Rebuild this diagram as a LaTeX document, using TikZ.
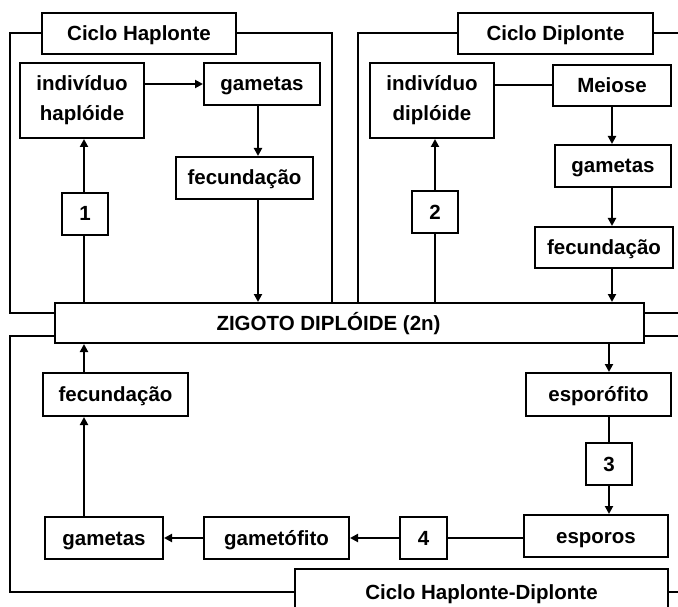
\documentclass[tikz,border=0pt]{standalone}
\usepackage{fontspec}
\setmainfont{Liberation Sans}
\usetikzlibrary{arrows.meta}

\begin{document}
\begin{tikzpicture}[x=1pt,y=-1pt,line width=2pt,
        box/.style={draw,fill=white,inner sep=0pt,align=center,
            text height=14pt,text depth=0pt,
            font=\bfseries\fontsize{20.5}{30}\selectfont},
        dupla/.style={box,text height=,text depth=},
        seta/.style={-{Triangle[length=8pt,width=8pt]}}]
        \clip (0,0) rectangle (678,607);
        \coordinate (le) at (10,0);
        \coordinate (ri) at (680,0);
        \coordinate (cL) at (84,0);
        \coordinate (cH) at (258,0);

        \node[box,minimum width=194,minimum height=41] (capH) at (139,33.5) {Ciclo Haplonte};
        \node[box,minimum width=195,minimum height=41] (capD) at (555.5,33.5) {Ciclo Diplonte};
        \node[box,minimum width=373,minimum height=46] (capHD) at (481.5,592) {Ciclo Haplonte-Diplonte};
        \node[box,minimum width=589,minimum height=40] (zig) at (349.5,323) {ZIGOTO DIPLÓIDE (2n)\hspace*{42pt}};

        \node[dupla,minimum width=124,minimum height=75] (indH) at (82,100.5) {indivíduo\\haplóide};
        \node[box,minimum width=116,minimum height=42] (gamH) at (262,84) {gametas};
        \node[box,minimum width=137,minimum height=42] (fecH) at (244.5,178) {fecundação};
        \node[box,minimum width=46,minimum height=42] (n1) at (85,214) {1};

        \node[dupla,minimum width=124,minimum height=75] (indD) at (432,100.5) {indivíduo\\diplóide};
        \node[box,minimum width=118,minimum height=41] (meio) at (612,85.5) {Meiose};
        \node[box,minimum width=116,minimum height=42] (gamD) at (613,166) {gametas};
        \node[box,minimum width=138,minimum height=41] (fecD) at (604,247.5) {fecundação};
        \node[box,minimum width=46,minimum height=42] (n2) at (435,212) {2};

        \node[box,minimum width=145,minimum height=43] (fecL) at (115.5,394.5) {fecundação};
        \node[box,minimum width=145,minimum height=43] (espf) at (598.5,394.5) {esporófito};
        \node[box,minimum width=46,minimum height=42] (n3) at (609,464) {3};
        \node[box,minimum width=144,minimum height=42] (espo) at (596,536) {esporos};
        \node[box,minimum width=47,minimum height=42] (n4) at (423.5,538) {4};
        \node[box,minimum width=145,minimum height=42] (gmtf) at (276.5,538) {gametófito};
        \node[box,minimum width=118,minimum height=42] (gamL) at (104,538) {gametas};

        \draw (capH.west) -| (le |- 0,313) -- (zig.west |- 0,313);
        \draw (capH.east) -| (zig.north -| 332,0);
        \draw (capD.west) -| (zig.north -| 358,0);
        \draw (capD.east) -- (ri |- capD);
        \draw (zig.east |- 0,313) -- (ri |- 0,313);
        \draw (zig.east |- 0,336) -- (ri |- 0,336);
        \draw (zig.west |- 0,336) -| (le |- capHD) -- (capHD.west);
        \draw (capHD.east) -- (ri |- capHD);

        \draw (zig.north -| cL) -- (n1.south -| cL);
        \draw[seta] (n1.north -| cL) -- (indH.south -| cL);
        \draw[seta] (indH.east |- gamH) -- (gamH.west);
        \draw[seta] (gamH.south -| cH) -- (fecH.north -| cH);
        \draw[seta] (fecH.south -| cH) -- (zig.north -| cH);

        \draw (zig.north -| n2) -- (n2.south);
        \draw[seta] (n2.north) -- (indD.south -| n2);
        \draw (indD.east |- meio) -- (meio.west);
        \draw[seta] (meio.south) -- (gamD.north -| meio);
        \draw[seta] (gamD.south -| meio) -- (fecD.north -| meio);
        \draw[seta] (fecD.south -| meio) -- (zig.north -| meio);

        \draw[seta] (zig.south -| n3) -- (espf.north -| n3);
        \draw (espf.south -| n3) -- (n3.north);
        \draw[seta] (n3.south) -- (espo.north -| n3);
        \draw (espo.west |- n4) -- (n4.east);
        \draw[seta] (n4.west) -- (gmtf.east);
        \draw[seta] (gmtf.west) -- (gamL.east);
        \draw[seta] (gamL.north -| cL) -- (fecL.south -| cL);
        \draw[seta] (fecL.north -| cL) -- (zig.south -| cL);
    \end{tikzpicture}
\end{document}
